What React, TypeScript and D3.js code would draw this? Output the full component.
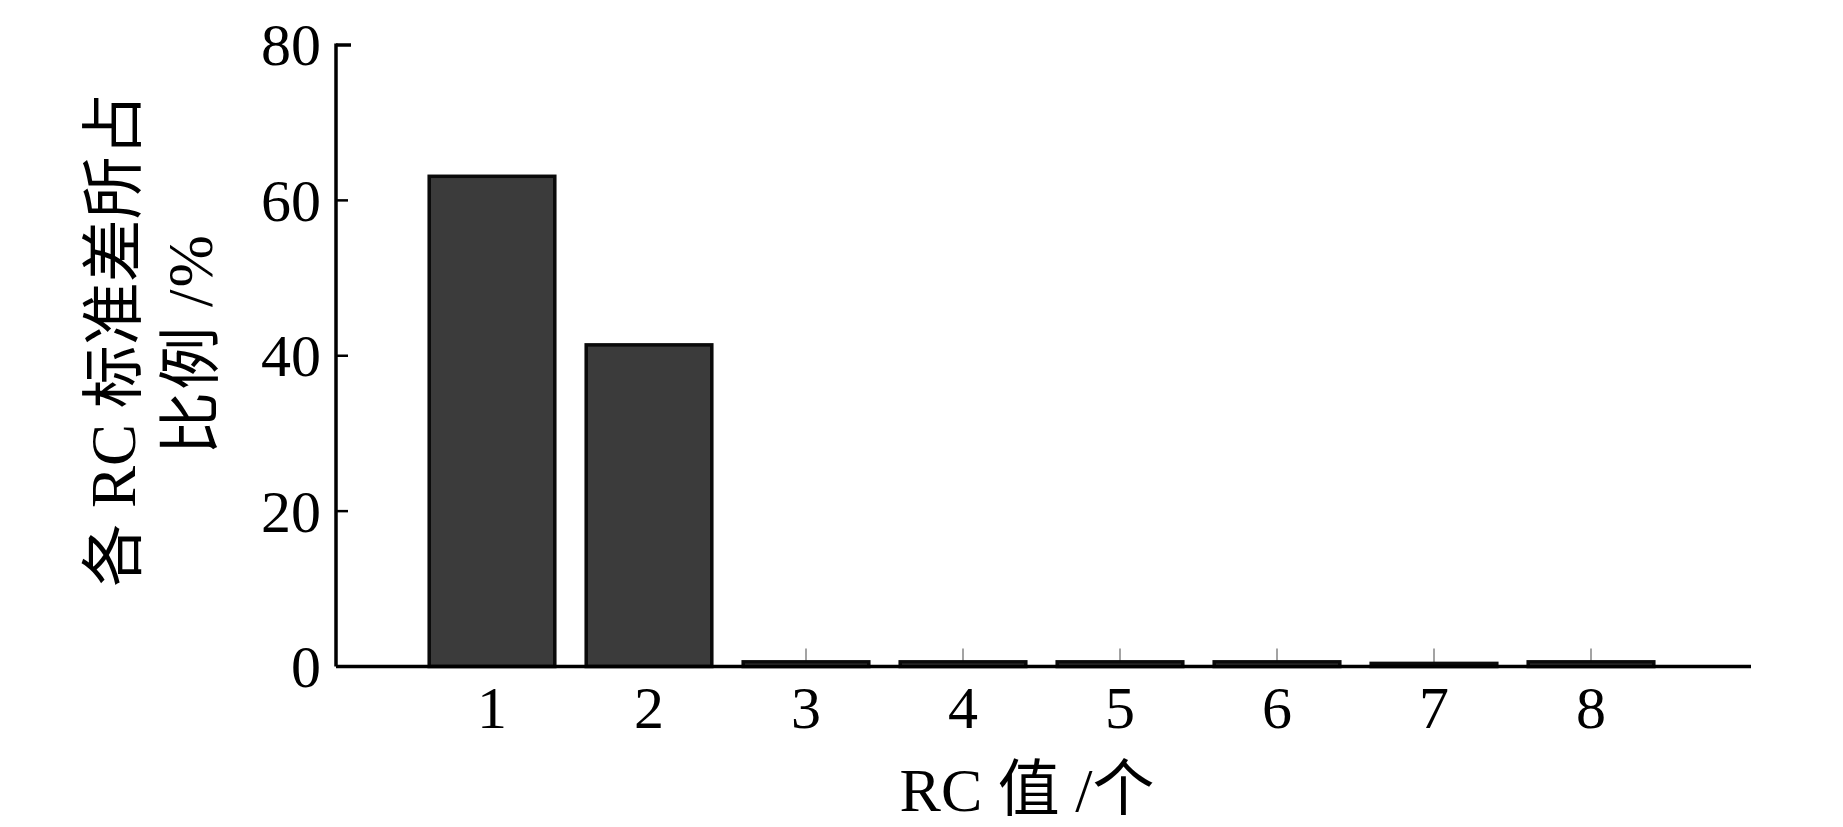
import React from "react";
import * as d3 from "d3";

const categories = ["1", "2", "3", "4", "5", "6", "7", "8"];
const values = [63.1, 41.4, 0.6, 0.6, 0.6, 0.6, 0.4, 0.6];
const yTicks = [0, 20, 40, 60, 80];
const yTitleLines = ["各 RC 标准差所占", "比例 /%"];
const xTitle = "RC 值 /个";

const W = 1843;
const H = 827;
const X0 = 336;
const X1 = 1751;
const Y0 = 666.5;
const Y1 = 45;

const serif = "'Liberation Serif', 'Times New Roman', 'Noto Sans CJK SC', serif";

export default function App() {
  const y = d3.scaleLinear().domain([0, 80]).range([Y0, Y1]);
  const x = d3
    .scaleBand<string>()
    .domain(categories)
    .range([413.5, 1669.5])
    .paddingInner(0.2)
    .paddingOuter(0.1);

  return (
    <svg
      width={W}
      height={H}
      viewBox={`0 0 ${W} ${H}`}
      style={{ position: "absolute", left: 0, top: 0, background: "#fff" }}
    >
      {/* inward x ticks (behind bars) */}
      {categories.map((c) => {
        const cx = (x(c) as number) + x.bandwidth() / 2;
        return (
          <line
            key={"xt" + c}
            x1={cx}
            x2={cx}
            y1={Y0}
            y2={Y0 - 18}
            stroke="#666"
            strokeWidth={1.2}
          />
        );
      })}
      {/* bars */}
      {categories.map((c, i) => (
        <rect
          key={"b" + c}
          x={x(c) as number}
          y={y(values[i])}
          width={x.bandwidth()}
          height={Y0 - y(values[i])}
          fill="#3b3b3b"
          stroke="#0a0a0a"
          strokeWidth={3.5}
        />
      ))}
      {/* axes */}
      <line x1={X0} x2={X1} y1={Y0} y2={Y0} stroke="#000" strokeWidth={3.5} />
      <line x1={X0} x2={X0} y1={Y1 - 1.5} y2={Y0} stroke="#000" strokeWidth={3.5} />
      {yTicks.map((t) => (
        <g key={"yt" + t}>
          <line
            x1={X0}
            x2={X0 + (t === 80 ? 15 : 12)}
            y1={y(t)}
            y2={y(t)}
            stroke="#000"
            strokeWidth={t === 80 ? 3.5 : 2.5}
          />
          <text
            x={321}
            y={y(t)}
            dy="0.34em"
            textAnchor="end"
            fontFamily={serif}
            fontSize={60}
            fill="#000"
          >
            {t}
          </text>
        </g>
      ))}
      {/* x tick labels */}
      {categories.map((c) => (
        <text
          key={"xl" + c}
          x={(x(c) as number) + x.bandwidth() / 2}
          y={728}
          textAnchor="middle"
          fontFamily={serif}
          fontSize={60}
          fill="#000"
        >
          {c}
        </text>
      ))}
      {/* x title */}
      <text
        x={1027}
        y={811}
        textAnchor="middle"
        fontFamily={serif}
        fontSize={62}
        fill="#000"
      >
        {xTitle}
      </text>
      {/* y title */}
      <text
        transform={`translate(114,340) rotate(-90)`}
        textAnchor="middle"
        dominantBaseline="central"
        fontFamily={serif}
        fontSize={63}
        fill="#000"
      >
        {yTitleLines[0]}
      </text>
      <text
        transform={`translate(191,344) rotate(-90)`}
        textAnchor="middle"
        dominantBaseline="central"
        fontFamily={serif}
        fontSize={63}
        letterSpacing={2}
        fill="#000"
      >
        {yTitleLines[1]}
      </text>
    </svg>
  );
}
